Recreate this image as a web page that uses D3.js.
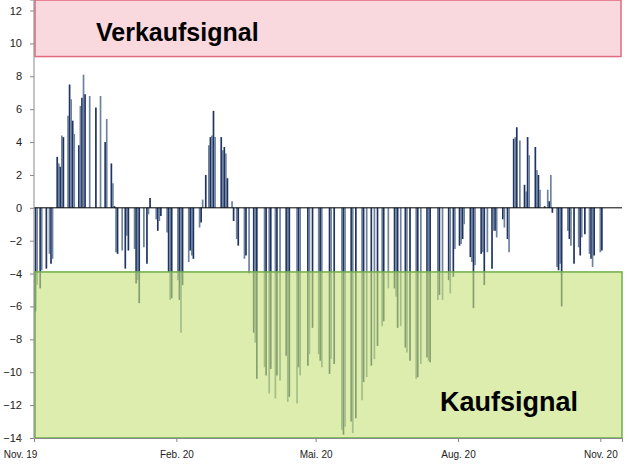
<!DOCTYPE html>
<html><head><meta charset="utf-8">
<script src="https://cdn.jsdelivr.net/npm/d3@7"></script>
<style>body{margin:0;background:#fff}svg{display:block}</style>
</head><body><svg id="c" width="629" height="470"></svg>
<script>
// day offsets from 1 Nov 2019 and oscillator values
const days = [1,2,4,5,8,10,11,12,15,16,17,18,19,22,23,24,25,26,29,30,31,32,33,36,40,43,46,47,50,51,52,53,54,57,59,60,61,65,66,67,68,71,73,74,75,79,80,81,82,86,87,88,89,93,94,95,96,100,101,102,103,107,108,109,111,113,114,115,116,117,121,122,123,124,125,128,129,131,132,136,137,139,142,143,144,149,150,152,153,156,157,159,163,164,165,170,171,172,177,178,180,184,185,186,191,192,194,199,200,201,205,206,208,212,213,215,218,220,222,225,226,229,233,234,235,237,240,241,243,247,248,250,254,255,256,261,262,264,268,269,271,272,275,276,277,278,282,283,284,285,289,290,291,293,296,297,298,299,303,304,306,307,310,311,312,314,317,318,319,320,324,325,326,327,330,332,333,334,335,338,339,340,341,345,346,347,349,352,353,354,356,359,360,361,362,366,367];
const values = [-6.3,-4.7,-4.9,-3.8,-3.7,-2.8,-3.4,-3.1,3.1,2.7,2.5,4.4,4.3,5.6,7.5,6.6,5.3,4.5,3.8,6.2,6.7,8.1,6.9,6.8,6.1,6.8,4.0,5.4,2.7,1.5,0.1,-2.7,-2.8,-2.6,-3.7,-1.7,-2.6,-2.5,-4.6,-4.4,-5.8,-2.4,-3.4,-0.4,0.6,-0.7,-1.4,-0.8,-0.5,-1.5,-3.9,-5.6,-5.5,-4.4,-5.6,-7.6,-4.7,-3.3,-2.6,-2.9,-3.1,-1.2,-0.9,0.5,2.0,3.8,4.3,4.4,5.9,4.3,4.3,3.5,3.7,3.3,1.8,0.4,-0.8,-1.9,-2.3,-3.1,-2.9,-4.0,-7.6,-8.2,-10.4,-9.7,-10.2,-11.3,-9.8,-11.6,-10.2,-10.5,-9.0,-11.8,-11.5,-11.9,-9.7,-10.2,-9.6,-8.9,-7.3,-8.9,-9.3,-9.7,-10.1,-9.2,-9.5,-13.5,-13.8,-13.3,-13.0,-13.7,-12.8,-11.7,-10.6,-10.3,-9.6,-9.2,-8.4,-7.2,-6.9,-4.9,-4.9,-5.4,-7.3,-7.2,-8.5,-8.8,-9.3,-10.4,-10.3,-9.5,-9.1,-9.3,-9.4,-5.6,-5.3,-5.6,-4.4,-5.2,-4.2,-2.5,-2.3,-2.2,-1.9,-1.0,-3.0,-3.3,-6.1,-3.5,-2.8,-2.7,-4.7,-2.7,-3.7,-1.4,-1.4,-1.8,-0.7,-1.2,-1.9,-2.7,4.2,4.3,4.9,4.1,1.4,1.0,4.3,3.2,3.7,2.3,2.0,1.1,0.1,1.1,0.4,2.0,-0.3,-3.6,-3.8,-3.4,-6.0,-1.4,-1.9,-2.3,-3.4,-2.4,-2.9,-1.8,-1.6,-2.8,-3.1,-3.6,-2.9,-2.7,-2.6];
const yTicks = [-14,-12,-10,-8,-6,-4,-2,0,2,4,6,8,10,12];
const xTickDays = [-9,92,182,274,366];
const xTickLabels = ["Nov. 19","Feb. 20","Mai. 20","Aug. 20","Nov. 20"];
const sellZone = [9.2,12.7];
const buyZone = [-14,-3.9];

const svg = d3.select("#c");
const L=34,R=622,T=0,B=438;
const x = d3.scaleLinear().domain([0,380]).range([L,R]);
const y = d3.scaleLinear().domain([-14,12.64]).range([B,T]);

svg.append("rect").attr("x",L+1).attr("y",y(sellZone[1])+1).attr("width",R-L-2)
  .attr("height",y(sellZone[0])-y(sellZone[1])-1).attr("fill","#f9d9de").attr("stroke","#e06a80").attr("stroke-width",1.5);

svg.append("g").selectAll("line").data(days).join("line")
  .attr("x1",d=>x(d)).attr("x2",d=>x(d))
  .attr("y1",y(0)).attr("y2",(d,i)=>y(values[i]))
  .attr("stroke",(d,i)=>i%2?"#6f82a0":"#1f3461").attr("stroke-width",1.7);

svg.append("rect").attr("x",L+1).attr("y",y(buyZone[1])).attr("width",R-L-1)
  .attr("height",y(buyZone[0])-y(buyZone[1])).attr("fill","#c6e27a").attr("fill-opacity",0.62)
  .attr("stroke","#6fae4a").attr("stroke-width",1.5);

svg.append("line").attr("x1",L).attr("x2",R).attr("y1",y(0)).attr("y2",y(0)).attr("stroke","#000").attr("stroke-width",1);

const ya = svg.append("g").attr("transform",`translate(${L},0)`)
  .call(d3.axisLeft(y).tickValues(yTicks).tickSize(4).tickFormat(d3.format("d")));
ya.select(".domain").attr("stroke","#888").attr("d",`M-4,${T}H0V${B}`);
ya.selectAll(".tick line").attr("stroke","#888");
ya.selectAll("text").attr("font-family","Arial, Liberation Sans, sans-serif").attr("font-size",11).attr("fill","#222").attr("x",-12);

const xa = svg.append("g").attr("transform",`translate(0,${B})`)
  .call(d3.axisBottom(x).tickValues(xTickDays).tickSize(4).tickFormat((d,i)=>xTickLabels[i]));
xa.select(".domain").attr("stroke","#888");
xa.selectAll(".tick line").attr("stroke","#888");
xa.selectAll("text").attr("font-family","Arial, Liberation Sans, sans-serif").attr("font-size",10).attr("fill","#222").attr("dy","1.3em");

svg.append("text").attr("x",96).attr("y",41).text("Verkaufsignal")
  .attr("font-family","Arial, Liberation Sans, sans-serif").attr("font-weight","bold").attr("font-size",25).attr("fill","#000");
svg.append("text").attr("x",440).attr("y",411).text("Kaufsignal")
  .attr("font-family","Arial, Liberation Sans, sans-serif").attr("font-weight","bold").attr("font-size",27).attr("fill","#000");
</script></body></html>
